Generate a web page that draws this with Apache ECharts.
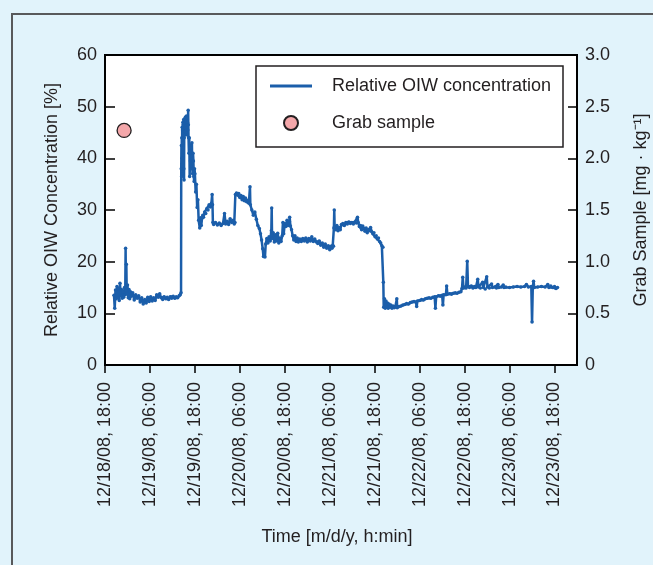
<!DOCTYPE html>
<html>
<head>
<meta charset="utf-8">
<script src="https://cdn.jsdelivr.net/npm/echarts@6/dist/echarts.min.js"></script>
<style>
html,body{margin:0;padding:0;background:#e1f3fb;}
#chart{width:653px;height:565px;}
</style>
</head>
<body>
<div id="chart"></div>
<script>
// Time axis: hours after 12/18/08 18:00
const timeTickHours = [0, 12, 24, 36, 48, 60, 72, 84, 96, 108, 120];
const timeTickLabels = ['12/18/08, 18:00', '12/19/08, 06:00', '12/19/08, 18:00', '12/20/08, 06:00',
  '12/20/08, 18:00', '12/21/08, 06:00', '12/21/08, 18:00', '12/22/08, 06:00',
  '12/22/08, 18:00', '12/23/08, 06:00', '12/23/08, 18:00'];
const leftTickLabels = ['0', '10', '20', '30', '40', '50', '60'];
const rightTickLabels = ['0', '0.5', '1.0', '1.5', '2.0', '2.5', '3.0'];

// Relative OIW concentration [%]: [hours, value]
const oiwPoints = [
  [2.4, 13.5], [2.6, 11.0], [2.8, 14.5], [3.0, 12.8], [3.2, 15.2], [3.4, 13.0], [3.6, 14.8], [3.8, 12.5],
  [4.0, 15.8], [4.2, 13.4], [4.4, 14.6], [4.6, 12.9], [4.8, 14.2], [5.0, 13.1], [5.2, 15.0], [5.4, 13.6],
  [5.5, 22.6], [5.6, 14.0], [5.7, 19.5], [5.8, 13.8], [6.0, 15.5], [6.2, 13.0], [6.4, 14.6], [6.6, 12.8],
  [6.8, 14.2], [7.0, 13.3], [7.4, 14.0], [7.8, 12.6], [8.2, 13.6], [8.6, 12.9], [9.0, 13.4], [9.4, 12.2],
  [9.8, 13.0], [10.2, 11.8], [10.6, 12.7], [11.0, 12.0], [11.4, 13.1], [11.8, 12.3], [12.2, 13.2], [12.6, 12.4],
  [13.0, 13.0], [13.4, 12.5], [13.8, 13.6], [14.2, 13.1], [14.6, 13.8], [15.0, 13.0], [15.4, 12.7], [15.8, 13.2],
  [16.2, 12.8], [16.6, 13.1], [17.0, 12.7], [17.4, 13.2], [17.8, 12.9], [18.2, 13.3], [18.6, 12.9], [19.0, 13.2],
  [19.4, 13.0], [19.8, 13.4], [20.1, 13.6],
  [20.3, 14.0], [20.35, 38.0], [20.4, 42.5], [20.45, 36.5], [20.5, 44.0], [20.55, 40.0], [20.6, 46.0], [20.65, 37.0],
  [20.7, 45.5], [20.8, 47.0], [20.85, 43.0], [20.9, 46.5], [21.0, 47.5], [21.05, 38.0], [21.1, 35.8], [21.15, 44.0],
  [21.2, 46.8], [21.3, 44.5], [21.35, 47.8], [21.4, 45.2], [21.5, 48.0], [21.55, 45.0], [21.6, 47.2], [21.7, 45.8],
  [21.75, 48.2], [21.8, 45.5], [21.9, 47.8], [21.95, 44.5], [22.0, 47.0], [22.1, 45.5], [22.2, 49.3], [22.25, 46.5],
  [22.3, 44.0],
  [22.4, 41.0], [22.5, 44.0], [22.6, 36.5], [22.7, 41.5], [22.8, 39.5], [22.9, 42.0], [23.0, 38.5], [23.1, 40.5],
  [23.2, 43.0], [23.3, 38.0], [23.4, 37.0], [23.5, 41.0], [23.6, 39.5], [23.7, 36.5], [23.8, 35.5], [23.9, 38.0],
  [24.0, 37.0], [24.2, 33.5], [24.4, 35.0], [24.6, 30.5], [24.8, 32.0], [25.0, 28.0],
  [25.3, 26.5], [25.5, 28.5], [25.7, 27.0], [25.9, 28.4], [26.1, 29.0], [26.3, 28.6], [26.6, 29.6], [26.9, 29.3],
  [27.2, 30.3], [27.5, 30.0], [27.8, 31.0], [28.1, 30.6], [28.4, 31.3], [28.6, 33.0], [28.7, 31.0], [28.8, 27.6],
  [29.0, 27.2], [29.5, 27.6], [30.0, 27.1], [30.5, 27.5], [31.0, 27.0], [31.5, 27.4], [31.9, 29.3], [32.2, 27.3],
  [32.6, 27.8], [33.0, 27.2], [33.4, 28.3], [33.8, 27.6], [34.2, 28.0], [34.5, 27.3], [34.7, 27.6],
  [34.8, 33.0], [35.1, 33.3], [35.4, 32.9], [35.7, 33.2], [36.0, 32.4], [36.3, 32.8], [36.6, 32.0], [36.9, 32.6],
  [37.2, 31.8], [37.5, 32.3], [37.8, 31.6], [38.1, 31.9], [38.4, 31.3], [38.7, 34.5], [38.8, 31.0],
  [39.2, 30.0], [39.6, 29.0], [40.0, 29.6], [40.4, 28.2], [40.8, 27.0], [41.2, 26.4], [41.5, 25.4], [41.8, 24.2],
  [42.1, 22.5], [42.3, 21.0], [42.5, 22.2], [42.7, 20.9], [42.9, 23.4],
  [43.2, 24.5], [43.5, 23.6], [43.8, 24.8], [44.1, 24.0], [44.4, 26.0], [44.5, 30.4], [44.6, 24.5], [44.9, 25.6],
  [45.2, 23.8], [45.5, 25.2], [45.8, 24.0], [46.1, 25.5], [46.4, 23.6], [46.7, 24.6], [47.0, 23.9], [47.3, 25.0],
  [47.5, 27.6], [47.7, 25.4], [48.0, 27.4], [48.3, 26.8], [48.6, 28.0], [48.9, 27.0], [49.2, 27.8], [49.3, 28.6],
  [49.5, 26.9], [49.8, 26.2], [50.1, 25.0], [50.4, 24.2], [50.7, 25.0], [51.0, 23.9], [51.3, 24.6], [51.6, 23.8],
  [52.0, 24.4], [52.4, 23.9], [52.8, 24.5], [53.2, 24.0], [53.6, 24.6], [54.0, 23.8], [54.4, 24.5], [54.8, 24.0],
  [55.2, 24.8], [55.6, 23.9], [56.0, 24.4], [56.4, 23.8], [56.8, 23.5], [57.2, 24.0], [57.6, 23.2], [58.0, 23.6],
  [58.4, 22.8], [58.8, 23.4], [59.2, 22.6], [59.6, 23.1], [60.0, 22.3], [60.3, 23.0], [60.6, 22.6], [60.8, 23.2],
  [61.0, 23.0], [61.1, 26.5], [61.2, 30.0], [61.3, 26.8], [61.6, 26.2], [61.9, 27.0], [62.2, 26.0], [62.5, 26.6],
  [62.8, 26.2], [63.1, 27.2], [63.5, 27.4], [63.9, 27.0], [64.3, 27.6], [64.7, 27.3], [65.1, 27.7], [65.5, 27.4],
  [65.9, 27.6], [66.3, 27.3], [66.7, 27.7], [67.1, 27.5], [67.4, 28.6], [67.6, 27.6], [67.9, 26.8], [68.2, 27.0],
  [68.5, 26.2], [68.8, 26.9], [69.1, 26.4], [69.4, 25.9], [69.7, 26.5], [70.0, 25.6], [70.3, 26.2], [70.6, 26.0],
  [70.9, 26.6], [71.2, 25.8], [71.5, 25.4], [71.8, 25.6], [72.1, 24.8], [72.4, 25.0], [72.7, 24.4], [73.0, 24.6],
  [73.3, 23.9], [73.6, 23.6], [73.9, 23.1], [74.2, 22.8], [74.3, 16.0], [74.4, 11.2],
  [74.6, 12.8], [74.8, 11.0], [75.0, 12.4], [75.2, 11.2], [75.4, 12.0], [75.6, 11.0], [75.8, 11.8], [76.0, 11.2],
  [76.3, 11.6], [76.6, 11.0], [76.9, 11.4], [77.2, 11.1], [77.5, 11.3], [77.8, 11.2], [77.9, 12.8], [78.0, 11.1],
  [78.5, 11.3], [79.0, 11.4], [79.5, 11.6], [80.0, 11.7], [80.5, 11.9], [81.0, 11.8], [81.5, 12.1], [82.0, 12.2],
  [82.5, 12.3], [83.0, 12.2], [83.2, 11.3], [83.4, 12.4], [84.0, 12.5], [84.5, 12.7], [85.0, 12.6], [85.5, 12.8],
  [86.0, 12.9], [86.5, 13.0], [87.0, 12.9], [87.5, 13.1], [88.0, 13.2], [88.2, 11.0], [88.4, 13.2], [89.0, 13.4],
  [89.5, 13.3], [90.0, 13.5], [90.2, 11.6], [90.4, 13.6], [91.0, 13.6], [91.2, 15.3], [91.4, 13.7], [92.0, 13.8],
  [92.5, 13.7], [93.0, 13.9], [93.5, 14.0], [94.0, 13.9], [94.5, 14.1], [95.0, 14.2], [95.3, 14.8], [95.5, 17.0],
  [95.7, 14.9], [96.0, 15.1], [96.4, 14.9], [96.7, 20.1], [96.9, 15.2], [97.3, 15.0], [97.8, 15.3], [98.2, 14.9],
  [98.6, 15.2], [99.0, 15.0], [99.5, 16.6], [99.7, 15.1], [100.2, 14.9], [100.8, 16.0], [101.0, 15.0], [101.5, 14.7],
  [101.9, 17.1], [102.1, 15.1], [102.6, 14.9], [103.2, 15.7], [103.4, 15.0], [104.0, 15.1], [104.5, 14.9], [104.9, 15.6],
  [105.1, 15.0], [105.8, 15.1], [106.3, 15.5], [106.5, 15.0], [107.0, 15.1], [108.0, 15.0], [109.0, 15.1], [110.0, 15.2],
  [111.0, 15.1], [112.0, 15.2], [112.5, 15.6], [113.0, 15.1], [113.8, 15.2], [114.0, 8.3], [114.2, 15.1], [114.4, 16.2],
  [114.6, 15.0], [115.5, 15.1], [116.5, 15.2], [117.5, 15.1], [118.2, 15.6], [118.5, 15.0], [119.0, 15.3], [119.5, 15.0],
  [120.0, 15.2], [120.4, 14.8], [120.8, 15.0]
];

// Grab sample [mg/kg]: [hours, value]
const grabSample = [[5.1, 2.27]];

const LINE_COLOR = '#1b5eaa';
const TEXT_COLOR = '#231f20';
const FONT = 'Liberation Sans, Arial, sans-serif';

const chart = echarts.init(document.getElementById('chart'), null, {renderer: 'canvas'});
chart.setOption({
  animation: false,
  backgroundColor: '#e1f3fb',
  textStyle: {fontFamily: FONT},
  graphic: [
    {type: 'rect', z: 0, shape: {x: 12, y: 14, width: 700, height: 600},
     style: {fill: 'none', stroke: '#58595b', lineWidth: 2}},
    {type: 'rect', z: 3, shape: {x: 256, y: 66, width: 307, height: 81},
     style: {fill: '#ffffff', stroke: '#231f20', lineWidth: 1.5}}
  ],
  grid: {left: 105, right: 76, top: 55, bottom: 200, show: true, outerBoundsMode: 'none',
    backgroundColor: '#ffffff', borderColor: '#000', borderWidth: 2},
  legend: {
    orient: 'vertical', left: 265, top: 72, z: 5,
    itemWidth: 42, itemHeight: 14, itemGap: 19,
    textStyle: {fontSize: 18, color: TEXT_COLOR, fontFamily: FONT, padding: [0, 0, 0, 15]},
    data: [
      {name: 'Relative OIW concentration', icon: 'path://M0,0H42V3H0Z'},
      {name: 'Grab sample', icon: 'circle'}
    ]
  },
  xAxis: {
    type: 'value', min: 0, max: 126, interval: 12,
    name: 'Time [m/d/y, h:min]', nameLocation: 'middle', nameGap: 163,
    nameTextStyle: {fontSize: 18, color: TEXT_COLOR, fontFamily: FONT, padding: [0, 8, 0, 0]},
    axisLine: {lineStyle: {color: '#000', width: 2}},
    axisTick: {inside: false, length: 8, lineStyle: {color: '#000', width: 1.5}, customValues: timeTickHours},
    axisLabel: {rotate: 90, margin: 17, fontSize: 18, color: TEXT_COLOR, fontFamily: FONT,
      customValues: timeTickHours,
      formatter: function (v) { const i = timeTickHours.indexOf(v); return i >= 0 ? timeTickLabels[i] : ''; }},
    splitLine: {show: false}
  },
  yAxis: [
    {
      type: 'value', position: 'left', min: 0, max: 60, interval: 10,
      name: 'Relative OIW Concentration [%]', nameLocation: 'middle', nameGap: 44, nameRotate: 90,
      nameTextStyle: {fontSize: 18, color: TEXT_COLOR, fontFamily: FONT},
      axisLine: {show: true, lineStyle: {color: '#000', width: 2}},
      axisTick: {show: true, inside: true, length: 10, lineStyle: {color: '#000', width: 1.5}},
      axisLabel: {margin: 8, fontSize: 18, color: TEXT_COLOR, fontFamily: FONT,
        formatter: function (v) { return leftTickLabels[Math.round(v / 10)]; }},
      splitLine: {show: false}
    },
    {
      type: 'value', position: 'right', min: 0, max: 3, interval: 0.5,
      name: 'Grab Sample [mg · kg⁻¹]', nameLocation: 'middle', nameGap: 55, nameRotate: 90,
      nameTextStyle: {fontSize: 18, color: TEXT_COLOR, fontFamily: FONT},
      axisLine: {show: true, lineStyle: {color: '#000', width: 2}},
      axisTick: {show: true, inside: true, length: 9, lineStyle: {color: '#000', width: 1.5}},
      axisLabel: {margin: 8, fontSize: 18, color: TEXT_COLOR, fontFamily: FONT,
        formatter: function (v) { return rightTickLabels[Math.round(v / 0.5)]; }},
      splitLine: {show: false}
    }
  ],
  series: [
    {
      name: 'Relative OIW concentration', type: 'line', yAxisIndex: 0, z: 2,
      data: oiwPoints, symbol: 'circle', symbolSize: 3.5, showSymbol: true, showAllSymbol: true,
      lineStyle: {color: LINE_COLOR, width: 2.5}, itemStyle: {color: LINE_COLOR}
    },
    {
      name: 'Grab sample', type: 'scatter', yAxisIndex: 1, z: 2,
      data: grabSample, symbol: 'circle', symbolSize: 14,
      itemStyle: {color: '#f4a7aa', borderColor: TEXT_COLOR, borderWidth: 1.3, opacity: 1}
    }
  ]
});
</script>
</body>
</html>
